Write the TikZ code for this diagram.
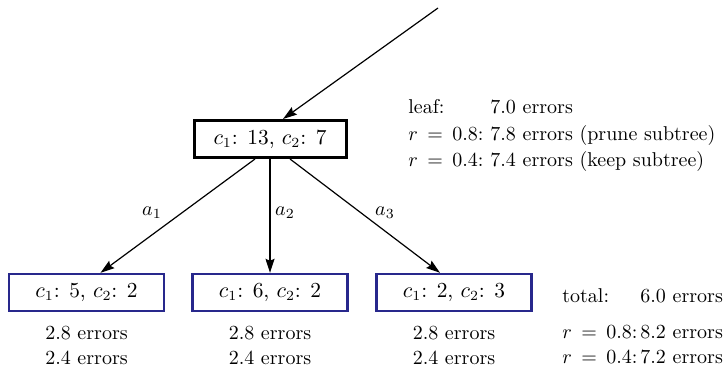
\documentclass[tikz,border=0pt]{standalone}
\usetikzlibrary{arrows.meta}
\definecolor{boxblue}{RGB}{40,40,140}
\newcommand{\req}{\mkern3.5mu=\mkern3.5mu}
\begin{document}
\begin{tikzpicture}[x=0.5pt,y=-0.5pt,
  rootbox/.style={draw=black,line width=1.5pt,minimum width=76pt,minimum height=18.5pt,inner sep=0pt,fill=white,font=\fontsize{10.7}{12}\selectfont},
  leafbox/.style={draw=boxblue,line width=1.2pt,minimum width=77.5pt,minimum height=18.5pt,inner sep=0pt,font=\fontsize{10.7}{12}\selectfont},
  edge/.style={line width=0.6pt,-{Stealth[length=7pt,width=4.5pt,inset=1pt]}},
  txt/.style={inner sep=0pt,anchor=base},
  txtl/.style={inner sep=0pt,anchor=base west}]
\useasboundingbox (0,0) rectangle (726,368);
\node[rootbox] (root) at (270,139) {$c_1$: 13, $c_2$: 7};
\node[leafbox] (c1) at (86.5,292.5) {$c_1$: 5, $c_2$: 2};
\node[leafbox] (c2) at (270,292.5) {$c_1$: 6, $c_2$: 2};
\node[leafbox] (c3) at (454,292.5) {$c_1$: 2, $c_2$: 3};
\coordinate (top) at (438,8);
\draw[edge] (top) -- ([xshift=6.5pt]root.north);
\draw[edge] ([xshift=-7.5pt]root.south) -- ([xshift=7pt]c1.north);
\draw[edge] (root.south) -- (c2.north);
\draw[edge] ([xshift=10pt]root.south) -- ([xshift=-7pt]c3.north);
\node (la1) at (152,213) {$a_1$};
\node (la2) at (285,213) {$a_2$};
\node (la3) at (385,213) {$a_3$};
\node[txt] (e1a) at (86.5,339) {2.8 errors};
\node[txt] (e1b) at (86.5,364) {2.4 errors};
\node[txt] (e2a) at (270,339) {2.8 errors};
\node[txt] (e2b) at (270,364) {2.4 errors};
\node[txt] (e3a) at (454,339) {2.8 errors};
\node[txt] (e3b) at (454,364) {2.4 errors};
\node[txtl] (tl1) at (562,302) {total:};
\node[txtl] (tv1) at (640,302) {6.0 errors};
\node[txtl] (tl2) at (562,338) {$r\req0.8$:};
\node[txtl] (tv2) at (640,338) {8.2 errors};
\node[txtl] (tl3) at (562,363) {$r\req0.4$:};
\node[txtl] (tv3) at (640,363) {7.2 errors};
\node[txtl] (rl1) at (408,114) {leaf:};
\node[txtl] (rv1) at (490,114) {7.0 errors};
\node[txtl] (rl2) at (408,141) {$r\req0.8$:};
\node[txtl] (rv2) at (490,141) {7.8 errors (prune subtree)};
\node[txtl] (rl3) at (408,167) {$r\req0.4$:};
\node[txtl] (rv3) at (490,167) {7.4 errors (keep subtree)};
\end{tikzpicture}
\end{document}
